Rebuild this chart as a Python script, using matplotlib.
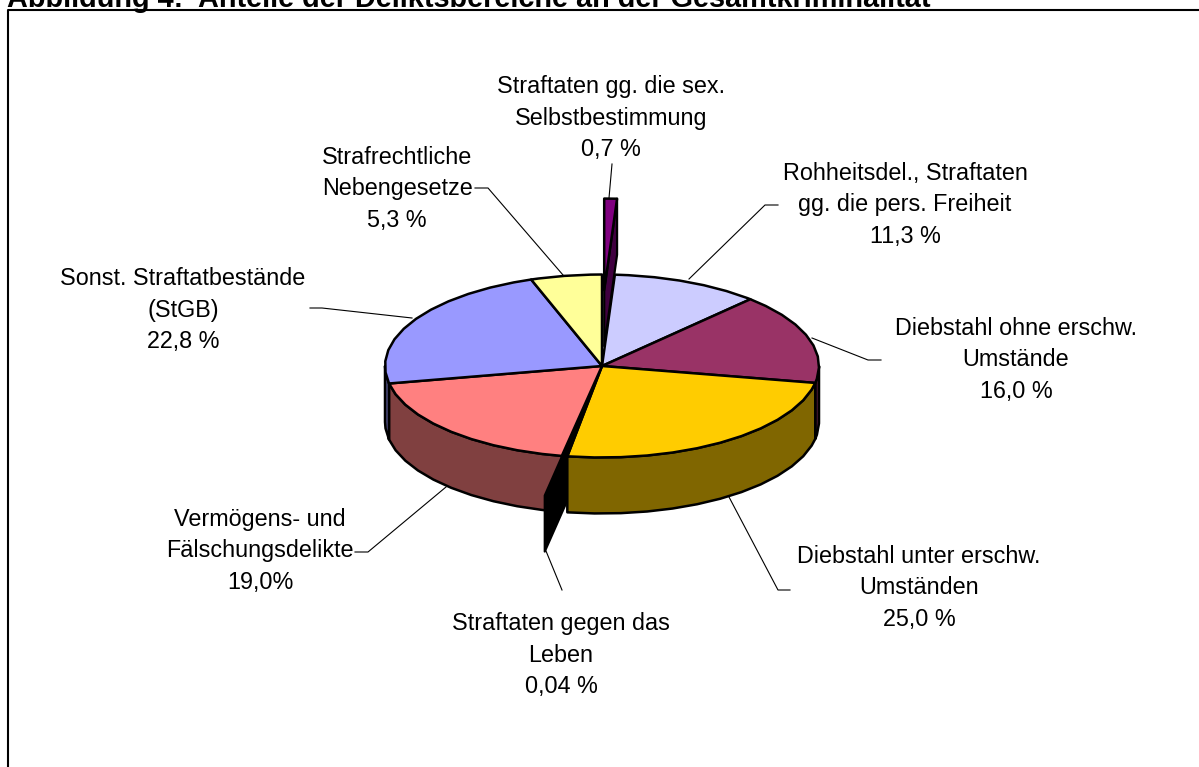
import numpy as np
import matplotlib
matplotlib.use("Agg")
import matplotlib.pyplot as plt
from matplotlib.patches import Polygon, Rectangle

plt.rcParams['font.family'] = ['Liberation Sans', 'DejaVu Sans']

# ---- data ----
title = "Abbildung 4:  Anteile der Deliktsbereiche an der Gesamtkriminalität"
categories = ["Straftaten gg. die sex.\nSelbstbestimmung",
              "Rohheitsdel., Straftaten\ngg. die pers. Freiheit",
              "Diebstahl ohne erschw.\nUmstände",
              "Diebstahl unter erschw.\nUmständen",
              "Straftaten gegen das\nLeben",
              "Vermögens- und\nFälschungsdelikte",
              "Sonst. Straftatbestände\n(StGB)",
              "Strafrechtliche\nNebengesetze"]
values = [0.7, 11.3, 16.0, 25.0, 0.04, 19.0, 22.8, 5.3]
value_labels = ["0,7 %", "11,3 %", "16,0 %", "25,0 %", "0,04 %", "19,0%", "22,8 %", "5,3 %"]
top_colors = ["#800080", "#CCCCFF", "#993366", "#FFCC00", "#000000", "#FF8080", "#9999FF", "#FFFF99"]
side_colors = ["#400040", "#666680", "#4D1A33", "#806600", "#000000", "#804040", "#4D4D80", "#808040"]
explode = [0.83, 0, 0, 0, 0.44, 0, 0, 0]

# ---- layout ----
W, H = 1199, 767
CX, CY, RX, RY, DEPTH = 602, 366, 217, 91.5, 56
label_pos = [(611, 118), (905, 205), (1016, 360), (919, 588), (561, 655), (260, 551), (183, 310), (397, 189)]
leaders = [[(609, 198), (612, 164)],
           [(689, 279), (765, 205), (778, 205)],
           [(812, 338), (868, 360), (881, 360)],
           [(729, 497), (778, 590), (790, 590)],
           [(546, 551), (562, 590)],
           [(446, 487), (368, 552), (355, 552)],
           [(412, 318), (322, 308), (310, 308)],
           [(563, 275), (488, 188), (475, 188)]]
STEP = 7.0           # rim is drawn as short straight pieces
PURPLE_END = 3.4     # very thin slices get a minimum drawn width
LEBEN_START = 189.2
LEBEN_CLIP_X = 567

fig = plt.figure(figsize=(W / 100, H / 100), dpi=100, facecolor="white")
ax = fig.add_axes([0, 0, 1, 1])
ax.set_xlim(0, W)
ax.set_ylim(H, 0)
ax.axis("off")

ax.plot([8, 8, W + 5], [H + 5, 9.5, 9.5], color="black", lw=1.5, zorder=1)
ax.text(7, 7, title, fontsize=20.75, fontweight="bold", ha="left", va="baseline", zorder=10)


def rim(theta, cx, cy):
    t = np.radians(theta)
    return cx + RX * np.sin(t), cy - RY * np.cos(t)


def angles(a, b):
    inner = np.arange(np.ceil(a / STEP) * STEP, b, STEP)
    return np.r_[a, inner[inner > a], b]


total = sum(values)
edges = np.concatenate([[0], np.cumsum(values)]) / total * 360
starts, ends = edges[:-1].copy(), edges[1:].copy()
# minimum drawn width of the two thin slices
ends[0] = PURPLE_END
starts[1] = PURPLE_END
ends[3] = LEBEN_START
starts[4] = LEBEN_START

for pts in leaders:
    xs, ys = zip(*pts)
    ax.plot(xs, ys, color="black", lw=0.8, zorder=2)


def offset_dir(i):
    if i == 0:
        return np.radians(0.7)
    return np.radians((edges[i] + edges[i + 1]) / 2)


def draw_walls(i, z):
    a, b = starts[i], ends[i]
    d = offset_dir(i)
    cx = CX + explode[i] * RX * np.sin(d)
    cy = CY - explode[i] * RY * np.cos(d)
    lo, hi = max(a, 90), min(b, 270)
    if i == 4:
        ex, ey = rim(edges[4], cx, cy)
        p = Polygon([(cx, cy), (ex, ey), (ex, ey + DEPTH), (cx, cy + DEPTH)], fc="black",
                    ec="black", lw=1.6, zorder=z, joinstyle="round")
        ax.add_patch(p)
        p.set_clip_path(Rectangle((0, 0), LEBEN_CLIP_X, H, transform=ax.transData))
        return
    if i == 0:
        ex, ey = rim(b, cx, cy)
        ax.add_patch(Polygon([(cx, cy), (ex, ey), (ex, ey + DEPTH), (cx, cy + DEPTH)],
                             fc=side_colors[i], ec="black", lw=1.6, zorder=z, joinstyle="round"))
        return
    if hi > lo:
        wx, wy = rim(angles(lo, hi), cx, cy)
        ax.add_patch(Polygon(np.c_[np.r_[wx, wx[::-1]], np.r_[wy, wy[::-1] + DEPTH]],
                             fc=side_colors[i], ec="black", lw=1.8, zorder=z, joinstyle="round"))


def draw_top(i, z):
    a, b = starts[i], ends[i]
    d = offset_dir(i) if explode[i] and i != 4 else 0
    e = explode[i] if i != 4 else 0
    cx = CX + e * RX * np.sin(d)
    cy = CY - e * RY * np.cos(d)
    x, y = rim(angles(a, b), cx, cy)
    ax.add_patch(Polygon(np.c_[np.r_[cx, x], np.r_[cy, y]], fc=top_colors[i], ec="black",
                         lw=1.8, zorder=z, joinstyle="round"))


for i in [1, 2, 3, 5, 6, 7]:
    draw_walls(i, 3)
draw_walls(4, 3.2)
for i in [1, 2, 3, 4, 5, 6, 7]:
    draw_top(i, 3.5)
draw_walls(0, 4)
draw_top(0, 4.5)

for (x, y), c, v in zip(label_pos, categories, value_labels):
    ax.text(x, y, c + "\n" + v, fontsize=16.8, ha="center", va="center",
            linespacing=1.48, zorder=6)

fig.savefig("out.png", dpi=100)
